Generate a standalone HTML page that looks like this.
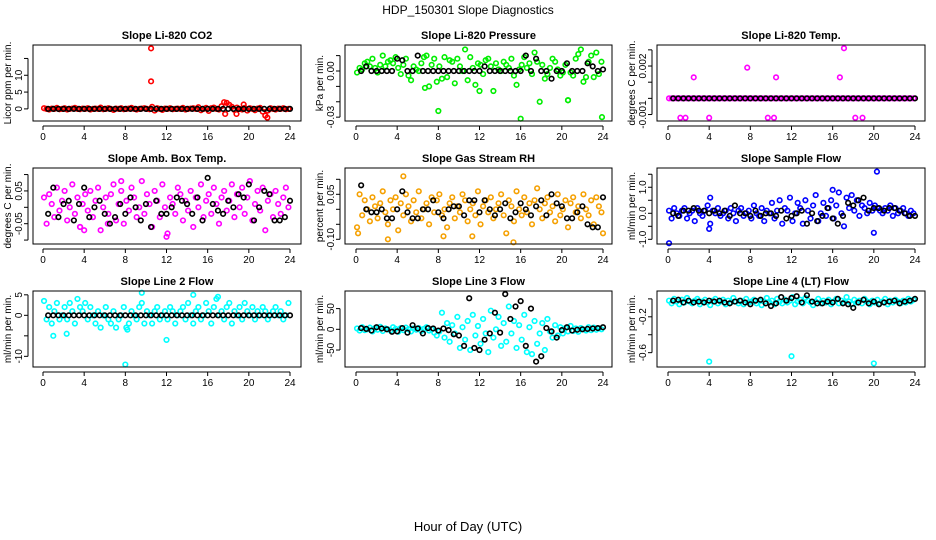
<!DOCTYPE html>
<html><head><meta charset="utf-8"><style>
html,body{margin:0;padding:0;background:#fff}
svg{display:block;font-family:"Liberation Sans",sans-serif}
</style></head><body>
<svg id="chart" width="936" height="540" viewBox="0 0 936 540">
<text x="468" y="14" text-anchor="middle" font-size="12">HDP_150301  Slope Diagnostics</text>
<text x="468" y="531" text-anchor="middle" font-size="13">Hour of Day (UTC)</text>
</svg>
<script>
const xTicks=[0,4,8,12,16,20,24];
const p1Col=[0.2,0,-0.2,0.1,0,0.3,-0.1,0,0.2,-0.2,0,0.1,0.3,0,-0.1,0.1,0,0.2,-0.2,0,0.1,0,0.4,-0.1,0,0.2,0,-0.3,0.1,0,0.2,-0.1,0,0.1,0.3,0,-0.2,0,0.1,0.2,0,-0.1,0.6,-0.5,0.2,0,-0.3,0.1,0,0.2,-0.1,0,0.1,0,0.3,-0.2,0,0.1,0.2,0,0.5,-0.4,0,0.3,-0.6,0.2,0.4,0,-0.2,0.8,2.0,1.8,1.2,0.6,-0.3,0.4,0,-0.2,0.3,-0.5,0.2,0,-0.4,0.1,0.3,-0.8,-2.0,-0.5,0.2,0,-0.2,0.1,0,0.2,-0.1,0];
const p1Blk=[0,0,0,0,0,0,0,0,0,0,0,0,0,0,0,0,0,0,0,0,0,0,0,0,0,0,0,0,0,0,0,0,0,0,0,0,0,0,0,0,0,0,0,0,0,0,0,0];
const p1OutX=[10.5,10.5,17.7,18.8,19.5,21.8];
const p1OutY=[18,8.2,-1.5,-1.5,1.3,-2.6];
const p2Col=[-1,2,1,5,6,3,8,2,-1,4,10,3,6,7,5,9,2,-2,4,8,-3,-6,3,1,0,5,9,10,-10,4,8,-7,3,-5,9,-4,7,6,-8,8,3,0,14,-6,9,2,-9,5,4,-2,7,8,3,-13,5,1,0,6,4,2,8,-3,-9,1,4,9,2,5,-2,12,6,-20,4,-5,-2,2,8,6,1,-3,-1,4,-19,-1,-3,8,11,14,-7,-4,6,10,-4,12,-2,6];
const p2Blk=[0,3,0,0,0,0,0,8,7,0,0,10,0,0,0,0,0,0,0,0,0,0,0,0,3,0,0,0,0,0,0,0,10,0,8,0,0,-5,0,0,5,0,0,0,5,3,0,1];
const p2OutX=[8,16,23.9,12,20.6,6.7];
const p2OutY=[-26,-31,-30,-13,-19,-11];
const p3Col=[0,0,0,0,0,0,0,0,0,0,0,0,0,0,0,0,0,0,0,0,0,0,0,0,0,0,0,0,0,0,0,0,0,0,0,0,0,0,0,0,0,0,0,0,0,0,0,0,0,0,0,0,0,0,0,0,0,0,0,0,0,0,0,0,0,0,0,0,0,0,0,0,0,0,0,0,0,0,0,0,0,0,0,0,0,0,0,0,0,0,0,0,0,0,0,0];
const p3Blk=[0,0,0,0,0,0,0,0,0,0,0,0,0,0,0,0,0,0,0,0,0,0,0,0,0,0,0,0,0,0,0,0,0,0,0,0,0,0,0,0,0,0,0,0,0,0,0,0];
const p3OutX=[2.5,7.7,10.5,16.7,17.1,1.2,1.7,4,9.7,10.3,18.2,18.9];
const p3OutY=[1.3,1.9,1.3,1.3,3.1,-1.2,-1.2,-1.2,-1.2,-1.2,-1.2,-1.2];
const p4Col=[3,-5,4,1,-3,6,-1,2,5,-4,0,7,-2,3,-6,1,4,-1,5,-3,2,6,-7,0,3,-2,4,7,-4,1,5,-5,2,-1,6,3,-3,0,8,-2,4,1,-6,5,2,-3,7,0,-8,3,1,-2,6,4,-4,2,-1,5,-6,3,0,7,-3,2,4,-2,6,1,-5,3,5,-1,2,7,-3,4,0,6,-2,3,8,-4,1,5,-1,6,-7,2,4,-3,5,1,-2,3,6,0];
const p4Blk=[-2,6,-3,1,2,-4,1,6,-3,0,2,-2,-5,-3,1,-2,3,0,-4,1,-6,2,-2,-2,0,3,2,1,-2,3,-4,9,1,-1,-2,2,0,4,3,7,-4,0,5,4,-4,-4,-3,2];
const p4OutX=[12,4,3.6,6.3,7.6];
const p4OutY=[-9,-7,-6,-5,8];
const p5Col=[-6,5,-2,3,0,-4,4,1,-3,2,6,-1,-5,3,0,4,-7,2,-2,5,1,-4,3,-1,6,-3,0,2,-5,4,-1,3,5,-2,0,-6,2,4,-3,1,-1,5,3,-4,0,2,-2,6,-5,1,3,-1,4,-3,0,2,5,-2,-8,3,1,-4,6,0,-2,4,-1,2,-5,3,7,0,-3,2,4,-1,1,-4,5,-2,0,3,-6,2,4,-1,1,-3,5,0,-2,3,-5,4,1,-1];
const p5Blk=[8,0,-1,-1,0,-3,-3,0,6,-1,-3,-3,0,0,3,-1,-3,0,1,1,-2,3,3,-1,3,0,-2,0,2,-3,-1,2,0,-2,1,3,-2,5,2,1,-3,-3,-1,1,-5,-6,-6,4];
const p5OutX=[4.6,15.3,3.1,8.5,24,0.2,11.3];
const p5OutY=[11,-11,-10,-9,-8,-8,-9];
const p6Col=[0.1,-0.2,0.2,0,-0.1,0.1,0.2,-0.2,0,0.1,-0.3,0.2,0,-0.1,0.1,0.3,-0.4,0.1,0,0.2,-0.1,0,0.1,-0.2,0.2,0,-0.3,0.1,0.2,-0.1,0,0.1,-0.2,0.3,0,-0.1,0.2,-0.3,0.1,0,0.4,-0.2,0.1,0.5,-0.4,0.2,0.1,0.6,-0.3,0,0.4,0.2,-0.4,0.5,0.1,-0.2,0.3,0.7,-0.3,0,0.4,-0.1,0.2,0.5,-0.2,0.3,0.8,0,-0.5,0.6,0.2,0.7,0.1,0.5,-0.1,0.3,0.2,0,0.4,0.1,0.3,0.2,0.1,0,0.2,0.1,0.3,-0.1,0.2,0,0.1,0.2,0,-0.1,0.1,0];
const p6Blk=[0,-0.1,0.1,0.1,0.2,0.1,0.1,0,0.1,0,0.1,-0.1,0.3,0,0,-0.1,0.1,-0.1,0,0,-0.1,0.1,-0.2,-0.1,0,0.1,-0.4,0,-0.3,-0.1,0.2,-0.2,-0.4,-0.1,0.4,0.3,0.5,0.6,0.1,0.2,0.2,0.1,0.2,0.2,0.1,0,-0.1,-0.1];
const p6OutX=[20.3,0.1,20,4,4.1,16];
const p6OutY=[1.6,-1.15,-0.75,-0.6,0.6,0.9];
const p7Col=[3.5,-1,2,-2,1,3,-1,0,2,-1,3,1,-2,4,2,1,3,-1,2,0,-2,1,-3,0,2,-1,-2,1,-3,-1,0,2,-3,-2,1,0,-1,2,3,-2,1,0,-2,1,2,-1,0,1,-1,2,1,-2,0,1,2,-1,3,0,-2,1,2,-1,0,3,1,-2,2,4,0,1,-1,2,3,-2,1,0,2,-1,3,1,0,2,-1,1,0,2,1,-1,0,1,2,0,1,-1,0,3];
const p7Blk=[0,0,0,0,0,0,0,0,0,0,0,0,0,0,0,0,0,0,0,0,0,0,0,0,0,0,0,0,0,0,0,0,0,0,0,0,0,0,0,0,0,0,0,0,0,0,0,0];
const p7OutX=[8,12,1,2.3,9.6,14.6,8.2,17];
const p7OutY=[-12,-6,-5,-4.5,5.5,5,-3.5,4.5];
const p8Col=[2,-3,5,-2,0,4,-5,3,-1,6,-4,2,0,-3,5,1,-6,3,-2,4,0,-5,2,-1,3,-4,1,5,-3,0,-8,-15,-5,40,-20,15,-30,10,-10,30,-45,5,-25,20,-50,35,-15,8,-35,25,-10,-55,45,-20,0,30,-40,15,-30,55,-10,20,-45,10,-25,35,-55,5,-60,20,-35,-10,15,-50,25,-5,-20,10,-15,5,-10,3,-5,8,-4,2,-6,3,0,-3,5,-2,4,-1,2,0];
const p8Blk=[3,1,-3,5,2,0,-6,-5,3,-8,10,2,-10,3,2,-3,2,-2,-12,-15,-40,75,-45,-50,-25,-10,40,-8,85,25,55,68,-40,50,-78,-65,3,-5,-20,-2,5,-3,-1,0,1,2,3,5];
const p8OutX=[];
const p8OutY=[];
const p9Col=[-0.02,-0.05,0,-0.03,-0.06,-0.01,-0.04,0.01,-0.03,-0.05,-0.02,0,-0.06,-0.03,-0.01,-0.04,-0.07,-0.02,0,-0.05,-0.03,-0.01,-0.06,-0.02,-0.04,0.01,-0.03,-0.05,-0.02,-0.06,0,-0.04,-0.03,-0.01,-0.05,-0.02,-0.07,-0.03,0.01,-0.04,-0.02,-0.06,0,-0.03,-0.05,-0.01,-0.04,-0.02,0.02,-0.06,-0.03,-0.01,-0.05,0.01,-0.02,-0.04,-0.07,-0.03,0,-0.05,-0.02,-0.04,-0.01,-0.06,-0.03,0,-0.05,-0.02,-0.04,0.02,-0.03,-0.06,-0.01,-0.04,-0.02,-0.05,0,-0.03,-0.06,-0.02,-0.04,-0.01,-0.05,-0.03,0,-0.06,-0.02,-0.04,-0.01,-0.03,-0.05,-0.02,-0.04,0,-0.03,-0.01];
const p9Blk=[-0.02,-0.01,-0.04,-0.02,-0.04,-0.03,-0.04,-0.02,-0.03,-0.02,-0.04,-0.05,-0.03,-0.02,-0.04,-0.06,-0.02,-0.01,-0.05,-0.08,-0.05,0.02,-0.02,0.01,0.03,-0.04,0.04,-0.03,-0.05,-0.05,-0.03,-0.04,0,-0.05,-0.06,-0.1,-0.04,-0.01,-0.05,-0.03,-0.06,-0.04,-0.03,-0.02,-0.05,-0.03,-0.02,0];
const p9OutX=[4,12,20];
const p9OutY=[-0.7,-0.64,-0.72];

const cols=[{l:33,r:301,x0:43,x1:290},{l:345,r:612,x0:356,x1:603},{l:657,r:925,x0:668,x1:915}];
const rows=[{t:45,b:121},{t:168,b:244},{t:291,b:367}];
const panels=[
 {title:'Slope Li-820 CO2',ylab:'Licor ppm per min.',c:'#ff0000',ymin:-3.6,ymax:19,yt:[0,5,10,15],yl:['0','5','10',''],col:p1Col,blk:p1Blk,ox:p1OutX,oy:p1OutY},
 {title:'Slope Li-820 Pressure',ylab:'kPa per min.',c:'#00ee00',ymin:-32.5,ymax:16.9,yt:[-30,-20,-10,0,10],yl:['-0.03','','','0.00',''],col:p2Col,blk:p2Blk,ox:p2OutX,oy:p2OutY},
 {title:'Slope Li-820 Temp.',ylab:'degrees C per min.',c:'#ff00ff',ymin:-1.4,ymax:3.3,yt:[-1,0,1,2,3],yl:['-0.001','','','0.002',''],col:p3Col,blk:p3Blk,ox:p3OutX,oy:p3OutY},
 {title:'Slope Amb. Box Temp.',ylab:'degrees C per min.',c:'#ff00ff',ymin:-11.2,ymax:12,yt:[-10,-5,0,5,10],yl:['','-0.05','','0.05',''],col:p4Col,blk:p4Blk,ox:p4OutX,oy:p4OutY},
 {title:'Slope Gas Stream RH',ylab:'percent per min.',c:'#f5a000',ymin:-11.57,ymax:13.77,yt:[-10,-5,0,5,10],yl:['-0.10','','','0.05',''],col:p5Col,blk:p5Blk,ox:p5OutX,oy:p5OutY},
 {title:'Slope Sample Flow',ylab:'ml/min per min.',c:'#0000ff',ymin:-1.18,ymax:1.74,yt:[-1,-0.5,0,0.5,1,1.5],yl:['-1.0','','0.0','','1.0',''],col:p6Col,blk:p6Blk,ox:p6OutX,oy:p6OutY},
 {title:'Slope Line 2 Flow',ylab:'ml/min per min.',c:'#00ffff',ymin:-12.6,ymax:5.93,yt:[-10,-5,0,5],yl:['-10','','0','5'],col:p7Col,blk:p7Blk,ox:p7OutX,oy:p7OutY},
 {title:'Slope Line 3 Flow',ylab:'ml/min per min.',c:'#00ffff',ymin:-91,ymax:92.5,yt:[-50,0,50],yl:['-50','0','50'],col:p8Col,blk:p8Blk,ox:p8OutX,oy:p8OutY},
 {title:'Slope Line 4 (LT) Flow',ylab:'ml/min per min.',c:'#00ffff',ymin:-0.76,ymax:0.088,yt:[-0.6,-0.4,-0.2,0],yl:['-0.6','','-0.2',''],col:p9Col,blk:p9Blk,ox:p9OutX,oy:p9OutY}
];
const NS='http://www.w3.org/2000/svg';
const svg=document.getElementById('chart');
function mk(tag,attrs,parent){const e=document.createElementNS(NS,tag);for(const k in attrs)e.setAttribute(k,attrs[k]);parent.appendChild(e);return e;}
panels.forEach((p,i)=>{
 const C=cols[i%3],R=rows[Math.floor(i/3)];
 const g=mk('g',{},svg);
 
 
 const xs=h=>C.x0+(C.x1-C.x0)*h/24;
 const ys=v=>R.b-(R.b-R.t)*(v-p.ymin)/(p.ymax-p.ymin);
 const t=mk('text',{x:(C.l+C.r)/2,y:R.t-6,'text-anchor':'middle','font-size':11,'font-weight':'bold'},g);
 t.textContent=p.title;
 
 
 const yl=mk('text',{transform:`translate(${C.l-22},${(R.t+R.b)/2}) rotate(-90)`,'text-anchor':'middle','font-size':10},g);
 yl.textContent=p.ylab;
 
 
 const pts=mk('g',{fill:'none','stroke-width':1.6},g);
 
 
 const cn=p.col.length;
 p.col.forEach((v,k)=>{const c=mk('circle',{cx:xs(k*24/cn+0.1),cy:ys(v),r:2.3,stroke:p.c},pts);
  
  });
 p.ox.forEach((h,k)=>{const c=mk('circle',{cx:xs(h),cy:ys(p.oy[k]),r:2.3,stroke:p.c},pts);
  
  });
 const bn=p.blk.length;
 p.blk.forEach((v,k)=>{const c=mk('circle',{cx:xs((k+1)*24/bn),cy:ys(v),r:2.3,stroke:'#000'},pts);
  
  });
 const box=mk('rect',{x:C.l,y:R.t,width:C.r-C.l,height:R.b-R.t,fill:'none',stroke:'#000','stroke-width':1},g);
 
 
 const ax=mk('g',{stroke:'#000','stroke-width':1},g);
 
 
 mk('line',{x1:C.x0,x2:C.x1,y1:R.b+5,y2:R.b+5},ax);
 xTicks.forEach(h=>{mk('line',{x1:xs(h),x2:xs(h),y1:R.b+5,y2:R.b+9},ax);
  const l=mk('text',{x:xs(h),y:R.b+19,'text-anchor':'middle','font-size':10,stroke:'none'},ax);l.textContent=h;
  
  });
 const y0=ys(p.yt[0]),y1=ys(p.yt[p.yt.length-1]);
 mk('line',{x1:C.l-5,x2:C.l-5,y1:y0,y2:y1},ax);
 p.yt.forEach((v,k)=>{const y=ys(v);mk('line',{x1:C.l-9,x2:C.l-5,y1:y,y2:y},ax);
  if(p.yl[k]){const l=mk('text',{transform:`translate(${C.l-11},${y}) rotate(-90)`,'text-anchor':'middle','font-size':10,stroke:'none'},ax);l.textContent=p.yl[k];
  
  }});
});
</script>
</body></html>
